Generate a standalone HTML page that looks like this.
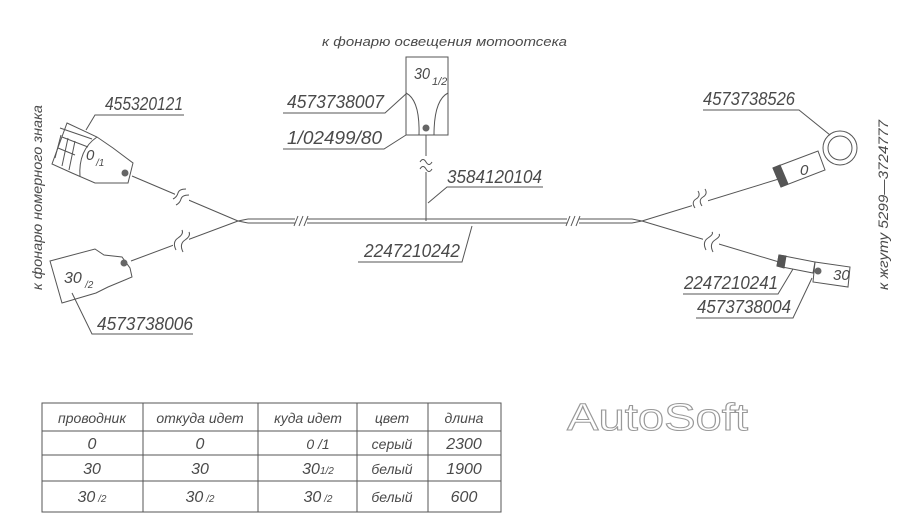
<!DOCTYPE html>
<html><head><meta charset="utf-8"><style>
html,body{margin:0;padding:0;background:#fff;width:900px;height:529px;overflow:hidden}
svg{display:block}
text{font-family:"Liberation Sans",sans-serif;font-style:italic;fill:#4a4a4a}
</style></head><body>
<svg width="900" height="529" viewBox="0 0 900 529" stroke="#555" fill="none" stroke-width="1">
<text x="322" y="46" font-size="13" textLength="245" lengthAdjust="spacingAndGlyphs" stroke="none">к фонарю освещения мотоотсека</text>
<rect x="406" y="57" width="42" height="78"/>
<path d="M406,93 Q420,100 419,135 M448,93 Q434,100 434,135"/>
<circle cx="426" cy="128" r="3.5" fill="#666" stroke="none"/>
<text x="414" y="79" font-size="16" textLength="16" lengthAdjust="spacingAndGlyphs" stroke="none">30</text><text x="432" y="85" font-size="11" stroke="none">1/2</text>
<line x1="426" y1="135" x2="426" y2="221"/>
<rect x="419" y="156" width="14" height="16" fill="#fff" stroke="none"/>
<path d="M420,162 q3,-5 6,0 t6,0 M420,169 q3,-5 6,0 t6,0"/>
<path d="M248,219 L632,219 M248,223 L632,223"/>
<path d="M238,221 L248,219 M238,221 L248,223 M642,221 L632,219 M642,221 L632,223"/>
<rect x="295" y="215" width="12" height="12" fill="#fff" stroke="none"/>
<path d="M294,226 l4,-10 M299,226 l4,-10 M304,226 l4,-10"/>
<rect x="567" y="215" width="12" height="12" fill="#fff" stroke="none"/>
<path d="M566,226 l4,-10 M571,226 l4,-10 M576,226 l4,-10"/>
<text x="287" y="108" font-size="18" textLength="97" lengthAdjust="spacingAndGlyphs" stroke="none">4573738007</text>
<path d="M283,113 L385,113 L407,93"/>
<text x="287" y="144" font-size="18" textLength="95" lengthAdjust="spacingAndGlyphs" stroke="none">1/02499/80</text>
<path d="M283,149 L384,149 L406,135"/>
<text x="447" y="183" font-size="18" textLength="95" lengthAdjust="spacingAndGlyphs" stroke="none">3584120104</text>
<path d="M543,187 L447,187 L428,203"/>
<text x="364" y="257" font-size="18" textLength="96" lengthAdjust="spacingAndGlyphs" stroke="none">2247210242</text>
<path d="M358,262 L462,262 L472,226"/>
<polygon points="67,123 97,137 113,148 133,163 128,183 95,183 72,173 52,164"/>
<path d="M62,137 L88,147 M58,148 L75,155 M60,128 L92,139"/>
<path d="M61,135 L55,158 M68,138 L62,166 M75,141 L69,170"/>
<path d="M97,137 Q78,150 80,177"/>
<text x="86" y="160" font-size="15" stroke="none">0</text><text x="96" y="166" font-size="10" stroke="none">/1</text>
<circle cx="125" cy="173" r="3.5" fill="#666" stroke="none"/>
<line x1="132" y1="176" x2="238" y2="221"/>
<rect x="175" y="187" width="14" height="18" fill="#fff" stroke="none"/>
<path d="M173,199 q4,-2 5,-6 t8,-4 M176,205 q4,-2 5,-6 t8,-4"/>
<text x="105" y="110" font-size="18" textLength="78" lengthAdjust="spacingAndGlyphs" stroke="none">455320121</text>
<path d="M184,115 L95,115 L86,130"/>
<polygon points="50,261 95,249 104,255 122,257 130,268 132,277 108,287 96,293 62,303"/>
<circle cx="124" cy="263" r="3.5" fill="#666" stroke="none"/>
<text x="64" y="283" font-size="16" stroke="none">30</text><text x="85" y="288" font-size="10" stroke="none">/2</text>
<line x1="131" y1="261" x2="238" y2="221"/>
<rect x="173" y="230" width="16" height="22" fill="#fff" stroke="none"/>
<path d="M176,250 q-4,-8 2,-12 t4,-8 M183,252 q-4,-8 2,-12 t4,-8"/>
<text x="97" y="330" font-size="18" textLength="96" lengthAdjust="spacingAndGlyphs" stroke="none">4573738006</text>
<path d="M193,334 L92,334 L72,293"/>
<text transform="translate(42,290) rotate(-90)" font-size="14" textLength="185" lengthAdjust="spacingAndGlyphs" stroke="none">к фонарю номерного знака</text>
<circle cx="840" cy="148" r="17"/><circle cx="840" cy="148" r="12"/>
<polygon points="773,168 818,151 825,170 781,187"/>
<polygon points="773,168 780,165 788,184 781,187" fill="#555"/>
<text x="800" y="175" font-size="15" stroke="none">0</text>
<line x1="782" y1="178" x2="642" y2="221"/>
<rect x="692" y="190" width="16" height="20" fill="#fff" stroke="none"/>
<path d="M695,208 q-4,-6 1,-9 t2,-8 M702,206 q-4,-6 1,-9 t2,-8"/>
<text x="703" y="105" font-size="18" textLength="92" lengthAdjust="spacingAndGlyphs" stroke="none">4573738526</text>
<path d="M703,110 L799,110 L830,135"/>
<polygon points="779,255 815,262 813,273 777,266"/>
<polygon points="779,255 786,256 784,268 777,266" fill="#555"/>
<polygon points="815,262 850,267 848,287 813,282"/>
<circle cx="818" cy="271" r="3.5" fill="#666" stroke="none"/>
<text x="833" y="280" font-size="15" stroke="none">30</text>
<line x1="779" y1="262" x2="642" y2="221"/>
<rect x="703" y="232" width="16" height="20" fill="#fff" stroke="none"/>
<path d="M706,250 q-4,-8 2,-12 t4,-6 M713,252 q-4,-8 2,-12 t4,-6"/>
<text x="684" y="289" font-size="18" textLength="94" lengthAdjust="spacingAndGlyphs" stroke="none">2247210241</text>
<path d="M683,294 L778,294 L793,269"/>
<text x="697" y="313" font-size="18" textLength="94" lengthAdjust="spacingAndGlyphs" stroke="none">4573738004</text>
<path d="M696,318 L793,318 L812,278"/>
<text transform="translate(888,290) rotate(-90)" font-size="14" textLength="170" lengthAdjust="spacingAndGlyphs" stroke="none">к жгуту 5299—3724777</text>
<rect x="42" y="403" width="459" height="109"/>
<path d="M42,431 H501 M42,455 H501 M42,481 H501 M143,403 V512 M258,403 V512 M357,403 V512 M428,403 V512"/>
<g font-size="14" stroke="none" text-anchor="middle">
<text x="92" y="423">проводник</text><text x="200" y="423">откуда идет</text><text x="308" y="423">куда идет</text><text x="392" y="423">цвет</text><text x="464" y="423">длина</text>
<text x="92" y="449" font-size="16">0</text><text x="200" y="449" font-size="16">0</text><text x="318" y="449">0 /1</text><text x="392" y="449">серый</text><text x="464" y="449" font-size="16">2300</text>
<text x="92" y="474" font-size="16">30</text><text x="200" y="474" font-size="16">30</text><text x="318" y="474" font-size="16">30<tspan font-size="10">1/2</tspan></text><text x="392" y="474">белый</text><text x="464" y="474" font-size="16">1900</text>
<text x="92" y="502" font-size="16">30<tspan font-size="10"> /2</tspan></text><text x="200" y="502" font-size="16">30<tspan font-size="10"> /2</tspan></text><text x="318" y="502" font-size="16">30<tspan font-size="10"> /2</tspan></text><text x="392" y="502">белый</text><text x="464" y="502" font-size="16">600</text>
</g>
<text x="567" y="430" font-size="38" textLength="181" lengthAdjust="spacingAndGlyphs" style="font-style:normal;fill:#fff;stroke:#999;stroke-width:1">AutoSoft</text>
</svg>
</body></html>
